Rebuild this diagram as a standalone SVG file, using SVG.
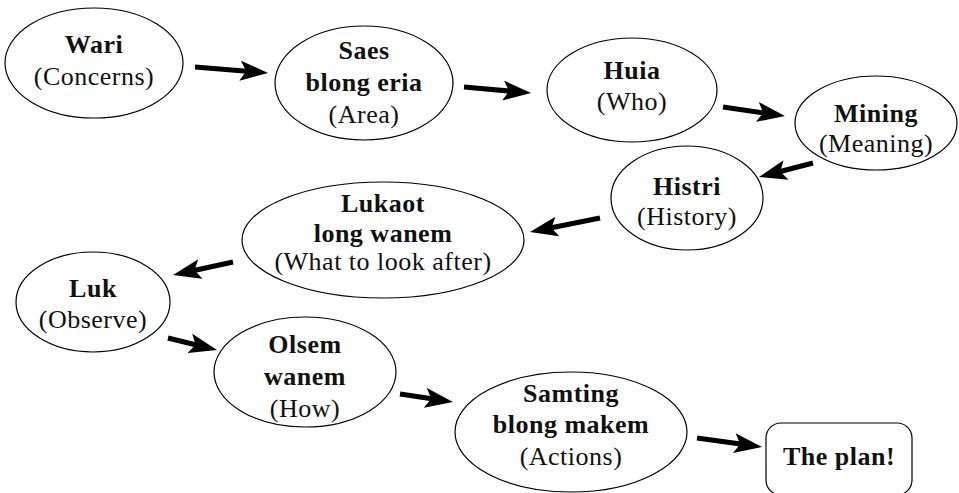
<svg xmlns="http://www.w3.org/2000/svg" width="959" height="493" viewBox="0 0 959 493">
<defs>
<style>
.n{fill:#fff;stroke:#000;stroke-width:1.2}
.t text{font-family:"Liberation Serif","Times New Roman","Noto Serif","DejaVu Serif",serif;font-size:26px;letter-spacing:0.5px;fill:#111;text-anchor:middle}
.t .b{font-weight:bold}
.c line{stroke:#000;stroke-width:5;marker-end:url(#ah)}
</style>
<marker id="ah" viewBox="0 0 28 20" refX="10" refY="10" markerWidth="28" markerHeight="20" markerUnits="userSpaceOnUse" orient="auto">
<path d="M0,0 L28,10 L0,20 L6,10 z" fill="#000"/>
</marker>
</defs>
<rect width="959" height="493" fill="#fff"/>
<g class="t">
<g id="wari"><ellipse class="n" cx="94" cy="63" rx="89" ry="55"/><text class="b" x="94" y="53">Wari</text><text x="94" y="85">(Concerns)</text></g>
<g id="saes"><ellipse class="n" cx="364" cy="83" rx="89" ry="57"/><text class="b" x="364" y="59">Saes</text><text class="b" x="364" y="91">blong eria</text><text x="364" y="123">(Area)</text></g>
<g id="huia"><ellipse class="n" cx="632" cy="90" rx="85" ry="52"/><text class="b" x="632" y="79">Huia</text><text x="632" y="110">(Who)</text></g>
<g id="mining"><ellipse class="n" cx="876" cy="123" rx="81" ry="47"/><text class="b" x="876" y="122">Mining</text><text x="876" y="152">(Meaning)</text></g>
<g id="histri"><ellipse class="n" cx="687" cy="198" rx="76" ry="52"/><text class="b" x="687" y="195">Histri</text><text x="687" y="225">(History)</text></g>
<g id="lukaot"><ellipse class="n" cx="383" cy="240" rx="141" ry="58"/><text class="b" x="383" y="212">Lukaot</text><text class="b" x="383" y="242">long wanem</text><text x="383" y="270">(What to look after)</text></g>
<g id="luk"><ellipse class="n" cx="93" cy="302" rx="77" ry="50"/><text class="b" x="93" y="297">Luk</text><text x="93" y="328">(Observe)</text></g>
<g id="olsem"><ellipse class="n" cx="305" cy="372" rx="91" ry="55"/><text class="b" x="305" y="353">Olsem</text><text class="b" x="305" y="385">wanem</text><text x="305" y="417">(How)</text></g>
<g id="samting"><ellipse class="n" cx="571" cy="432" rx="116" ry="60"/><text class="b" x="571" y="402">Samting</text><text class="b" x="571" y="433">blong makem</text><text x="571" y="465">(Actions)</text></g>
<g id="plan"><rect class="n" x="766" y="423" width="146" height="72" rx="15"/><text class="b" x="839" y="465">The plan!</text></g>
</g>
<g class="c" id="connectors">
<line x1="195" y1="67" x2="250.1" y2="71.5"/>
<line x1="464" y1="87" x2="513.1" y2="91.4"/>
<line x1="723" y1="107" x2="767.2" y2="113.4"/>
<line x1="813" y1="163" x2="776.4" y2="172.5"/>
<line x1="600" y1="218" x2="547.6" y2="228.5"/>
<line x1="233" y1="262" x2="190.6" y2="271.2"/>
<line x1="168" y1="338" x2="199.5" y2="345.7"/>
<line x1="400" y1="394" x2="435.2" y2="399.3"/>
<line x1="697" y1="438" x2="744.2" y2="444.5"/>
</g>
</svg>
